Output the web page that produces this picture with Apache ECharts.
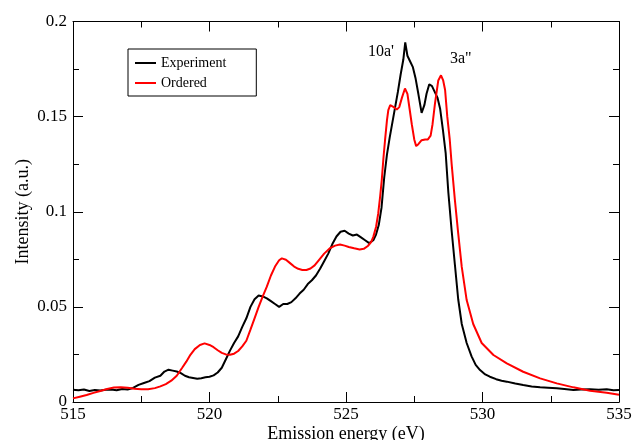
<!DOCTYPE html>
<html>
<head>
<meta charset="utf-8">
<script src="https://cdn.jsdelivr.net/npm/echarts@6/dist/echarts.min.js"></script>
<style>
html,body{margin:0;padding:0;background:#fff;}
#chart{width:633px;height:440px;}
</style>
</head>
<body>
<div id="chart"></div>
<script>
var seriesNames = ["Experiment", "Ordered"];
var xTicks = [515, 520, 525, 530, 535];
var yTicks = [0, 0.05, 0.1, 0.15, 0.2];

var expEnergy = [515.0,515.2,515.4,515.6,515.8,516.0,516.2,516.4,516.6,516.8,517.0,517.2,517.4,517.6,517.8,518.0,518.2,518.35,518.5,518.65,518.8,518.95,519.1,519.25,519.4,519.55,519.7,519.85,520.0,520.15,520.3,520.45,520.6,520.75,520.9,521.05,521.2,521.35,521.5,521.65,521.8,521.95,522.1,522.25,522.4,522.55,522.7,522.85,523.0,523.15,523.3,523.45,523.6,523.75,523.9,524.05,524.2,524.35,524.5,524.65,524.8,524.95,525.1,525.25,525.4,525.55,525.7,525.85,526.0,526.1,526.2,526.3,526.4,526.5,526.6,526.7,526.8,526.9,527.0,527.1,527.17,527.25,527.35,527.45,527.55,527.65,527.77,527.87,527.95,528.05,528.15,528.25,528.35,528.45,528.55,528.65,528.75,528.87,528.99,529.11,529.24,529.42,529.6,529.75,529.91,530.1,530.27,530.5,530.7,530.89,531.2,531.49,531.8,532.11,532.4,532.72,533.0,533.33,533.6,533.94,534.25,534.55,534.8,535.0];
var expIntensity = [0.0065,0.0062,0.0066,0.0058,0.0063,0.0060,0.0064,0.0066,0.0062,0.0068,0.0066,0.0074,0.0090,0.0100,0.0110,0.0128,0.0138,0.0160,0.0170,0.0165,0.0160,0.0152,0.0138,0.0130,0.0126,0.0122,0.0125,0.0130,0.0133,0.0140,0.0155,0.0180,0.0225,0.0270,0.0310,0.0345,0.0395,0.0440,0.0500,0.0540,0.0560,0.0555,0.0545,0.0530,0.0515,0.0500,0.0515,0.0515,0.0525,0.0545,0.0570,0.0590,0.0620,0.0640,0.0665,0.0700,0.0740,0.0780,0.0830,0.0870,0.0895,0.0900,0.0885,0.0875,0.0880,0.0865,0.0850,0.0835,0.0850,0.0880,0.0930,0.1020,0.1180,0.1300,0.1390,0.1470,0.1550,0.1630,0.1720,0.1800,0.1890,0.1820,0.1790,0.1760,0.1700,0.1620,0.1520,0.1560,0.1620,0.1670,0.1660,0.1630,0.1600,0.1540,0.1430,0.1310,0.1100,0.0900,0.0720,0.0540,0.0410,0.0310,0.0240,0.0195,0.0168,0.0145,0.0133,0.0120,0.0112,0.0107,0.0097,0.0089,0.0082,0.0077,0.0075,0.0072,0.0068,0.0063,0.0066,0.0067,0.0064,0.0067,0.0062,0.0063];

var ordEnergy = [515.0,515.25,515.5,515.75,516.0,516.25,516.5,516.75,517.0,517.25,517.5,517.75,518.0,518.2,518.4,518.6,518.8,519.0,519.15,519.3,519.46,519.65,519.82,520.0,520.15,520.3,520.45,520.6,520.75,520.9,521.05,521.2,521.35,521.5,521.65,521.8,521.95,522.1,522.25,522.4,522.55,522.65,522.8,522.95,523.1,523.25,523.4,523.55,523.7,523.85,524.0,524.2,524.4,524.6,524.78,524.95,525.1,525.3,525.5,525.65,525.8,525.92,526.0,526.1,526.18,526.25,526.31,526.37,526.43,526.5,526.55,526.62,526.67,526.75,526.86,526.95,527.05,527.16,527.25,527.33,527.41,527.5,527.57,527.65,527.77,527.9,528.0,528.1,528.17,528.26,528.38,528.48,528.56,528.63,528.71,528.8,528.87,528.99,529.11,529.24,529.42,529.66,529.97,530.4,530.89,531.49,532.11,532.72,533.33,533.94,534.55,535.0];
var ordIntensity = [0.0019,0.0028,0.0037,0.0048,0.0058,0.0068,0.0076,0.0078,0.0075,0.0070,0.0067,0.0067,0.0073,0.0082,0.0094,0.0112,0.0138,0.0180,0.0212,0.0248,0.0278,0.0300,0.0308,0.0300,0.0288,0.0272,0.0258,0.0250,0.0248,0.0254,0.0268,0.0292,0.0322,0.0380,0.0440,0.0500,0.0555,0.0606,0.0665,0.0712,0.0745,0.0755,0.0748,0.0730,0.0712,0.0700,0.0694,0.0694,0.0702,0.0718,0.0745,0.0780,0.0807,0.0822,0.0828,0.0822,0.0815,0.0808,0.0802,0.0805,0.0820,0.0840,0.0868,0.0920,0.0990,0.1080,0.1166,0.1280,0.1376,0.1480,0.1534,0.1560,0.1570,0.1550,0.1537,0.1550,0.1600,0.1648,0.1620,0.1540,0.1460,0.1380,0.1345,0.1355,0.1376,0.1380,0.1380,0.1400,0.1460,0.1570,0.1690,0.1717,0.1690,0.1640,0.1500,0.1380,0.1250,0.1060,0.0886,0.0710,0.0536,0.0410,0.0310,0.0247,0.0203,0.0159,0.0124,0.0098,0.0077,0.0059,0.0049,0.0038];

var annotations = ["10a'", "3a\""];

function pairs(xs, ys){ return xs.map(function(x,i){ return [x, ys[i]]; }); }

var FONT = "Liberation Serif";
var axisCommon = {
  type: 'value',
  axisLine: {show: true, onZero: false, lineStyle: {color: '#000', width: 1}},
  axisTick: {show: true, inside: true, length: 10, lineStyle: {color: '#000', width: 1}},
  minorTick: {show: true, splitNumber: 2, length: 6, lineStyle: {color: '#000', width: 1}},
  splitLine: {show: false},
  minorSplitLine: {show: false}
};

var chart = echarts.init(document.getElementById('chart'), null, {renderer: 'canvas'});
var option = {
  animation: false,
  backgroundColor: '#fff',
  grid: {left: 73, right: 14, top: 21.5, bottom: 38, containLabel: false, outerBoundsMode: 'none'},
  xAxis: [
    Object.assign({}, axisCommon, {
      position: 'bottom', min: xTicks[0], max: xTicks[xTicks.length-1], interval: 5,
      name: 'Emission energy (eV)', nameLocation: 'middle', nameGap: 23, nameMoveOverlap: false,
      nameTextStyle: {fontFamily: FONT, fontSize: 18, color: '#000'},
      axisLabel: {show: true, margin: 4, fontFamily: FONT, fontSize: 17, color: '#000'}
    }),
    Object.assign({}, axisCommon, {
      position: 'top', min: xTicks[0], max: xTicks[xTicks.length-1], interval: 5,
      axisLabel: {show: false}
    })
  ],
  yAxis: [
    Object.assign({}, axisCommon, {
      position: 'left', min: yTicks[0], max: yTicks[yTicks.length-1], interval: 0.05,
      name: 'Intensity (a.u.)', nameLocation: 'middle', nameGap: 41, nameRotate: 90, nameMoveOverlap: false,
      nameTextStyle: {fontFamily: FONT, fontSize: 18, color: '#000'},
      axisLabel: {show: true, margin: 6, fontFamily: FONT, fontSize: 17, color: '#000',
        formatter: function(v){ return String(+v.toFixed(3)); }}
    }),
    Object.assign({}, axisCommon, {
      position: 'right', min: yTicks[0], max: yTicks[yTicks.length-1], interval: 0.05,
      axisLabel: {show: false}
    })
  ],
  legend: {
    show: true,
    orient: 'vertical',
    left: 128, top: 49,
    data: seriesNames,
    icon: 'rect',
    itemWidth: 21, itemHeight: 2,
    itemGap: 6,
    padding: [7, 30, 6, 7],
    borderColor: '#000', borderWidth: 1,
    backgroundColor: '#fff',
    textStyle: {fontFamily: FONT, fontSize: 14, color: '#000', lineHeight: 14}
  },
  graphic: [
    {type: 'text', left: 368, top: 44, style: {text: annotations[0], font: '16px "Liberation Serif"', fill: '#000'}},
    {type: 'text', left: 450, top: 51, style: {text: annotations[1], font: '16px "Liberation Serif"', fill: '#000'}}
  ],
  series: [
    {name: seriesNames[0], type: 'line', xAxisIndex: 0, yAxisIndex: 0, showSymbol: false, symbol: 'none',
     data: pairs(expEnergy, expIntensity), color: '#000', lineStyle: {color: '#000', width: 2}},
    {name: seriesNames[1], type: 'line', xAxisIndex: 0, yAxisIndex: 0, showSymbol: false, symbol: 'none',
     data: pairs(ordEnergy, ordIntensity), color: '#ff0000', lineStyle: {color: '#ff0000', width: 2}}
  ]
};
chart.setOption(option);
</script>
</body>
</html>
